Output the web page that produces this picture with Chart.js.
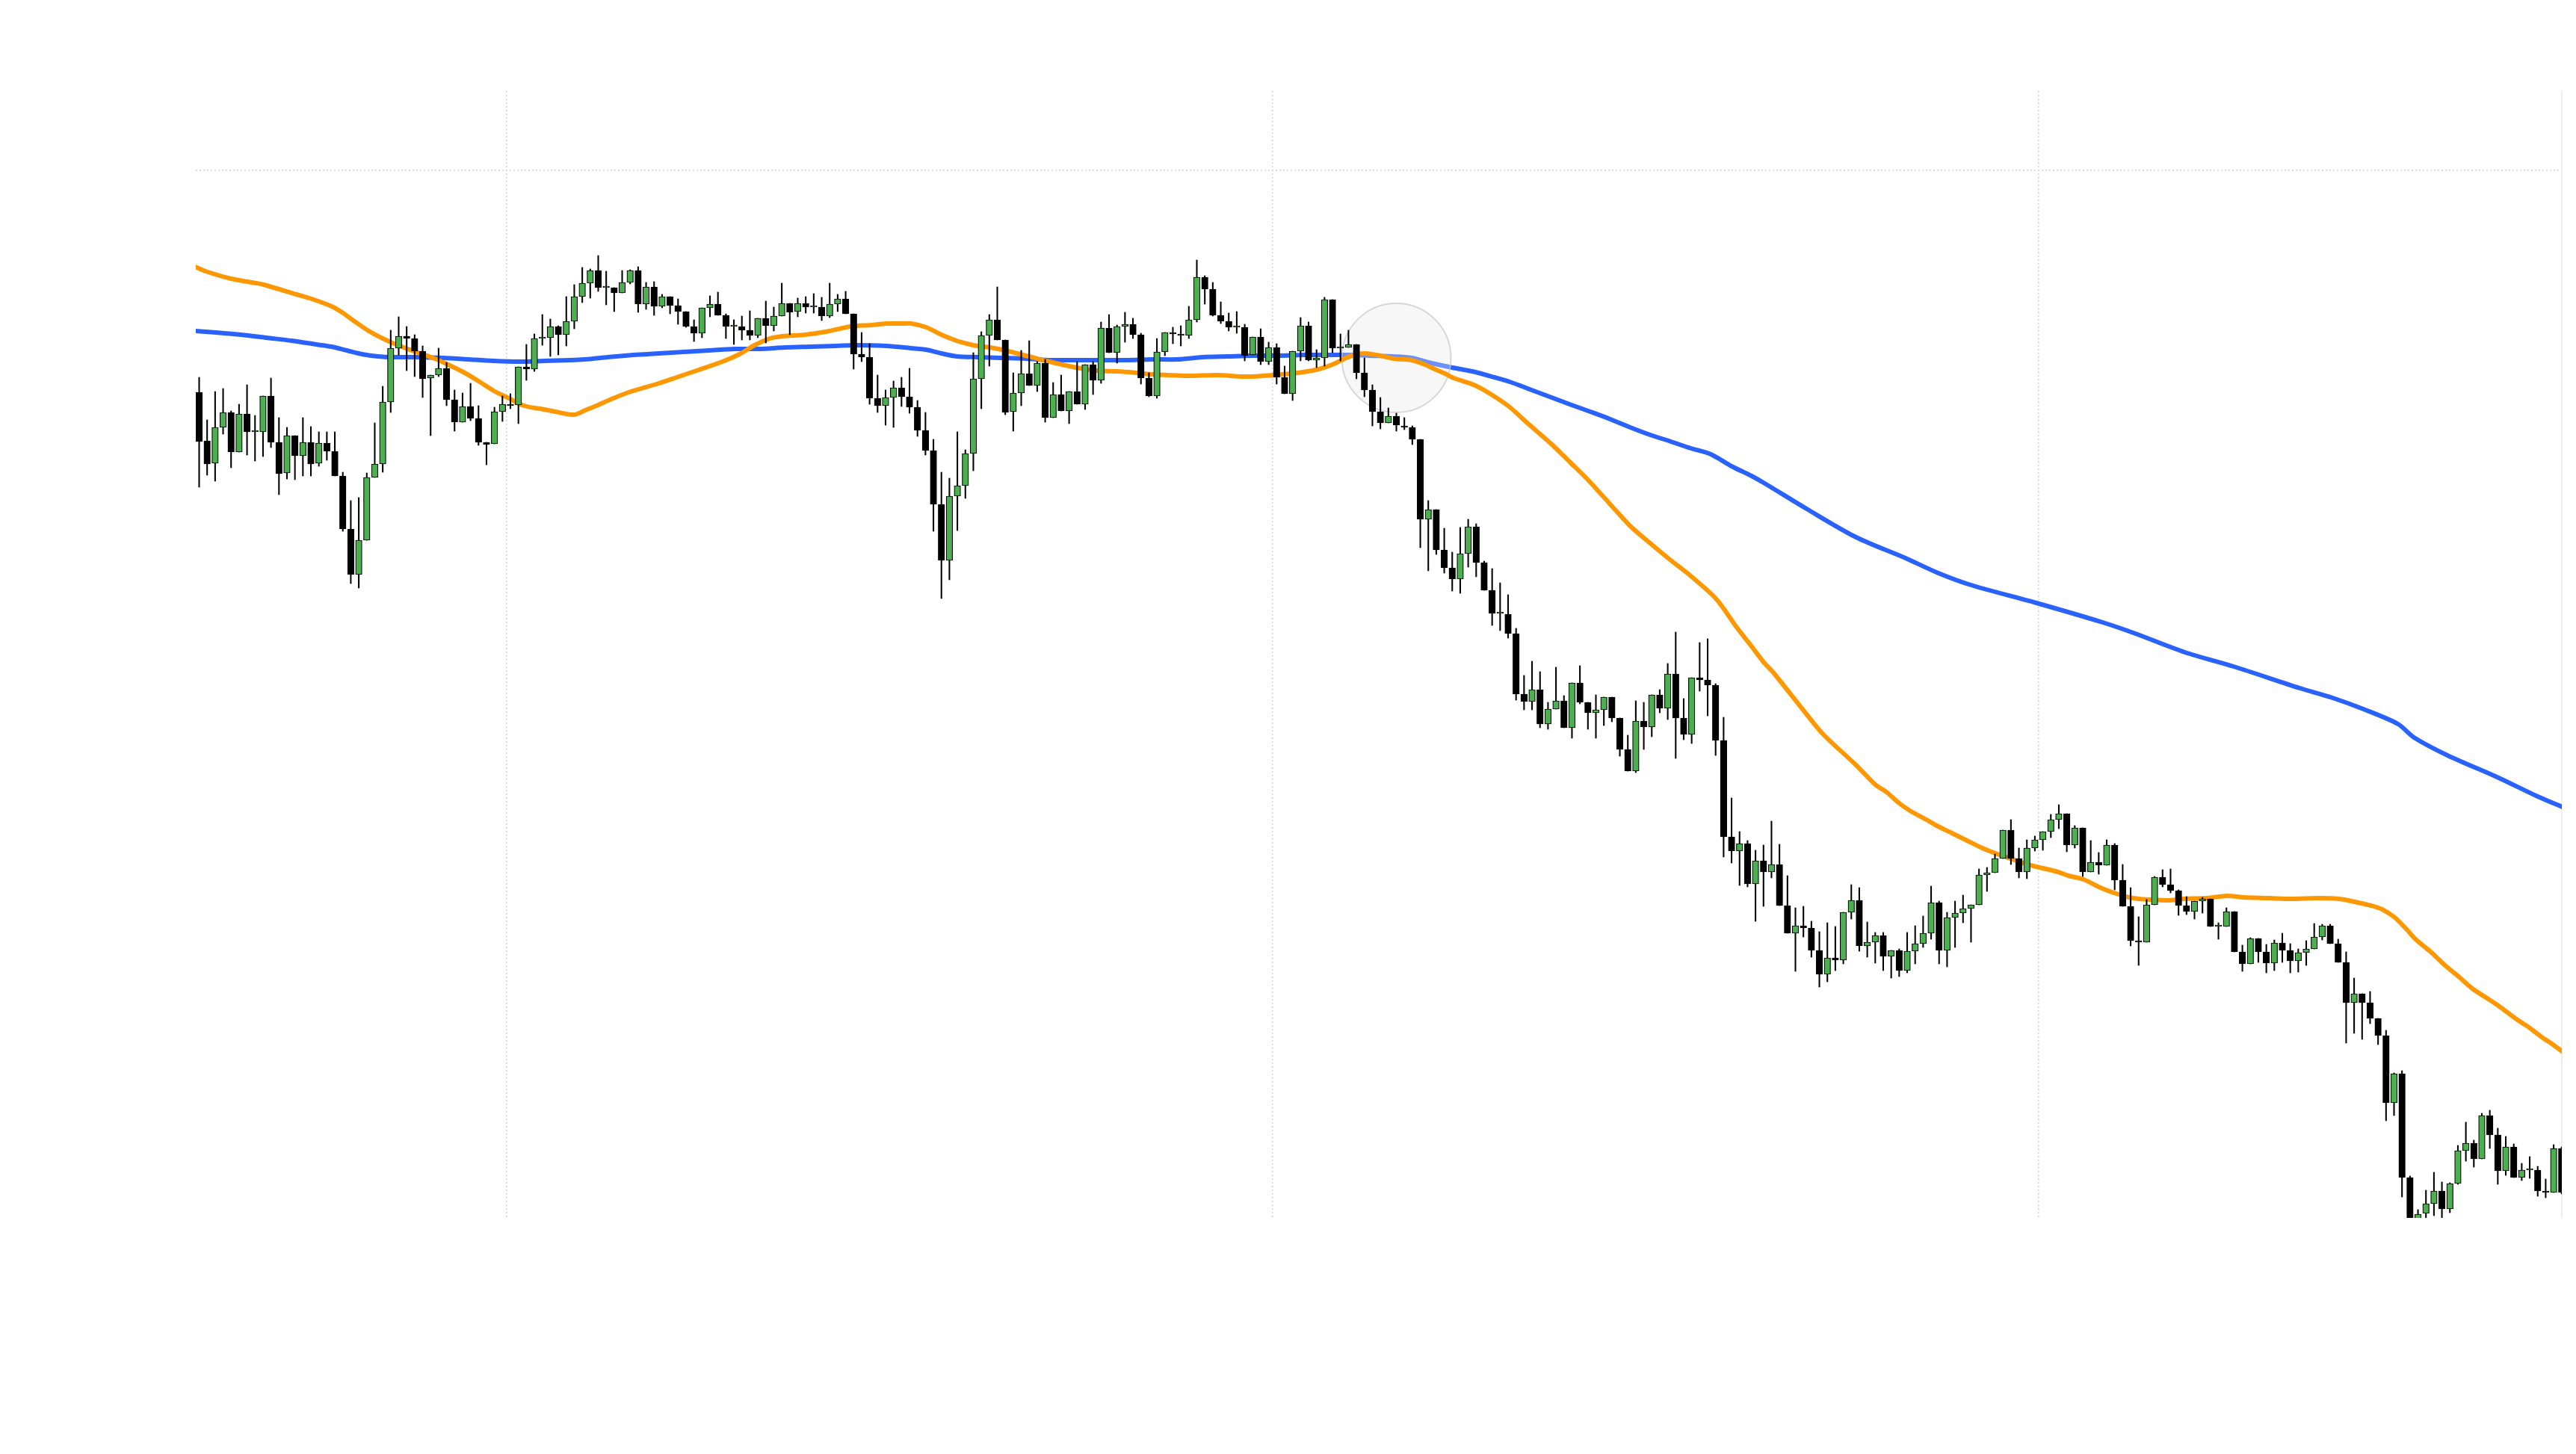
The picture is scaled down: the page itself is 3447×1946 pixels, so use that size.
<!DOCTYPE html>
<html>
<head>
<meta charset="utf-8">
<title>Candles with moving averages</title>
<script src="https://cdn.jsdelivr.net/npm/chart.js@4.4.1/dist/chart.umd.min.js"></script>
<style>
  html, body { margin: 0; padding: 0; background: #fff; }
  #chart { display: block; }
</style>
</head>
<body>
<canvas id="chart" width="3447" height="1946"></canvas>
<script>
// ------------------------------
// Candle values (one entry per session).
const opens = [
  170.3, 163.8, 160.8, 165.6, 167.6, 162.3, 167.4, 165.0, 165.0, 169.8,
  163.6, 159.5, 164.5, 161.8, 163.6, 160.8, 163.5, 162.4, 159.1, 152.0,
  145.9, 150.5, 158.9, 160.7, 169.0, 176.2, 177.8, 177.5, 175.8, 172.2,
  172.6, 173.5, 169.3, 166.3, 168.4, 166.8, 163.6, 163.4, 167.7, 168.7,
  168.6, 173.7, 173.4, 177.5, 177.6, 179.1, 178.0, 179.8, 183.1, 184.9,
  186.6, 184.3, 184.3, 183.6, 185.0, 186.6, 182.1, 184.4, 181.8, 183.1,
  181.9, 181.1, 179.1, 178.2, 181.6, 182.1, 180.6, 179.1, 179.1, 178.6,
  177.9, 180.2, 179.2, 180.5, 182.2, 181.1, 182.2, 181.7, 181.7, 180.5,
  182.1, 182.8, 180.8, 175.4, 175.0, 169.5, 168.5, 169.6, 170.9, 169.7,
  168.3, 165.2, 162.5, 155.3, 147.8, 156.4, 157.8, 162.1, 172.1, 177.9,
  180.0, 177.3, 167.7, 170.2, 172.8, 171.2, 174.2, 166.9, 170.0, 167.8,
  170.4, 168.7, 174.0, 171.9, 178.9, 175.6, 179.1, 179.4, 178.0, 172.2,
  169.8, 175.7, 178.3, 178.1, 177.9, 180.0, 185.7, 184.1, 180.6, 179.8,
  179.0, 179.0, 175.3, 177.7, 174.4, 176.3, 172.3, 170.1, 175.8, 179.2,
  174.6, 174.9, 182.7, 176.2, 176.3, 176.7, 172.9, 170.6, 167.7, 166.2,
  167.1, 165.8, 165.6, 164.0, 153.3, 154.6, 149.2, 146.8, 145.3, 148.7,
  152.3, 147.5, 143.8, 140.7, 140.6, 138.0, 129.9, 128.9, 130.5, 125.9,
  127.9, 129.0, 125.4, 131.4, 128.8, 127.4, 127.8, 129.5, 126.7, 122.5,
  119.6, 126.3, 125.5, 129.8, 128.0, 132.6, 126.7, 124.5, 132.1, 131.8,
  131.1, 123.7, 110.8, 108.9, 109.9, 104.5, 107.6, 106.1, 107.1, 101.6,
  97.9, 98.9, 98.6, 95.6, 92.4, 94.6, 94.3, 100.7, 102.3, 96.2,
  96.7, 97.6, 94.8, 95.6, 92.9, 95.5, 96.5, 97.9, 102.0, 95.6,
  100.0, 100.6, 101.2, 101.7, 105.7, 106.0, 107.9, 111.7, 107.9, 106.1,
  109.3, 110.4, 111.5, 113.1, 113.9, 109.7, 112.0, 106.1, 107.4, 107.0,
  109.7, 105.0, 101.5, 96.9, 96.7, 101.7, 105.4, 104.4, 103.6, 101.6,
  100.8, 102.2, 102.5, 98.8, 98.8, 100.8, 95.4, 93.8, 97.2, 95.4,
  93.9, 96.6, 95.6, 94.2, 95.3, 95.8, 97.4, 98.9, 96.5, 94.0,
  88.6, 89.8, 88.6, 86.5, 84.2, 75.2, 79.1, 65.2, 58.8, 60.4,
  61.7, 63.4, 61.0, 64.4, 68.8, 69.8, 67.7, 73.5, 70.9, 66.1,
  69.3, 65.2, 66.2, 66.2, 63.4, 63.2, 69.1
];
const highs = [
  172.3, 166.6, 170.4, 170.8, 167.8, 168.7, 171.3, 167.2, 169.8, 172.2,
  166.9, 165.6, 164.5, 166.9, 165.7, 165.0, 165.0, 165.0, 159.6, 155.8,
  156.2, 159.5, 166.2, 171.1, 178.6, 180.4, 179.1, 178.0, 176.5, 172.6,
  176.2, 174.3, 170.6, 170.2, 171.5, 168.5, 163.6, 168.3, 169.8, 170.1,
  173.7, 176.7, 178.1, 180.7, 180.1, 179.2, 183.1, 184.7, 187.0, 186.8,
  188.6, 186.5, 184.3, 186.6, 186.7, 187.1, 185.0, 185.1, 183.4, 183.1,
  182.8, 181.1, 180.0, 181.6, 183.2, 183.7, 180.8, 180.0, 180.5, 181.2,
  180.2, 182.5, 181.7, 184.9, 182.2, 182.9, 183.1, 183.5, 183.0, 184.9,
  183.4, 183.8, 180.8, 178.3, 176.8, 172.6, 170.6, 171.8, 172.3, 173.5,
  169.2, 167.6, 164.0, 159.6, 158.8, 165.0, 162.6, 175.6, 178.4, 180.7,
  184.4, 177.3, 172.9, 175.9, 177.2, 174.4, 174.7, 171.6, 172.6, 170.4,
  174.4, 174.0, 174.4, 179.7, 180.7, 179.3, 181.0, 180.2, 178.2, 172.9,
  177.5, 178.3, 179.0, 179.2, 181.8, 188.0, 185.9, 185.0, 182.4, 180.9,
  181.1, 179.4, 177.7, 178.8, 177.0, 176.8, 173.8, 175.8, 180.3, 179.7,
  176.0, 183.0, 182.7, 178.1, 178.6, 176.7, 174.9, 171.3, 169.6, 168.2,
  167.5, 166.9, 165.8, 164.0, 155.8, 154.6, 152.1, 148.9, 152.2, 153.3,
  152.7, 147.7, 146.7, 144.8, 143.2, 138.7, 132.4, 134.3, 132.9, 128.8,
  133.5, 129.7, 131.4, 133.7, 128.8, 129.8, 129.5, 129.5, 126.7, 124.4,
  129.0, 128.8, 129.8, 130.5, 134.0, 138.2, 129.3, 132.1, 136.8, 137.3,
  131.3, 126.8, 116.0, 111.5, 110.3, 109.0, 109.7, 112.9, 109.8, 105.6,
  101.3, 101.5, 99.5, 98.1, 99.3, 98.8, 100.7, 104.4, 104.0, 99.4,
  98.0, 98.0, 95.6, 95.8, 98.0, 98.9, 100.2, 104.2, 102.2, 100.7,
  102.2, 103.0, 101.7, 106.5, 106.7, 108.5, 111.7, 113.1, 109.3, 110.4,
  110.9, 111.5, 113.8, 115.1, 113.9, 112.3, 112.0, 110.3, 108.7, 110.4,
  109.9, 107.1, 104.0, 100.1, 102.4, 105.5, 106.4, 106.5, 103.7, 102.8,
  102.2, 102.7, 102.5, 99.3, 101.3, 100.8, 96.3, 97.3, 97.2, 96.4,
  97.0, 97.9, 96.5, 95.8, 96.9, 99.2, 99.1, 99.1, 97.1, 95.4,
  91.9, 89.8, 90.1, 86.5, 84.9, 79.2, 79.5, 65.4, 60.9, 63.5,
  65.9, 64.6, 64.5, 69.5, 72.6, 70.2, 73.8, 74.2, 71.8, 70.7,
  69.7, 67.1, 68.0, 66.7, 65.0, 69.6, 69.3
];
const lows = [
  157.6, 159.2, 158.4, 164.7, 160.2, 162.3, 161.9, 161.1, 161.7, 162.9,
  156.6, 158.7, 158.6, 159.1, 159.1, 160.4, 161.2, 159.1, 151.7, 144.7,
  144.1, 150.5, 158.9, 159.6, 167.6, 175.3, 173.2, 172.4, 169.6, 164.5,
  172.4, 168.5, 165.1, 166.3, 166.5, 163.2, 160.6, 163.4, 166.4, 168.1,
  166.1, 171.9, 173.1, 176.6, 175.1, 175.3, 176.5, 178.8, 182.3, 182.9,
  183.8, 182.0, 181.1, 183.6, 184.8, 181.0, 181.4, 180.6, 181.6, 180.8,
  179.4, 179.0, 177.1, 177.6, 180.4, 180.6, 177.5, 176.7, 177.3, 177.3,
  177.6, 176.9, 178.5, 180.5, 178.0, 180.4, 180.9, 180.9, 179.9, 180.3,
  181.1, 180.8, 173.4, 174.4, 168.7, 167.6, 165.9, 165.6, 168.4, 167.5,
  164.4, 161.9, 151.7, 142.7, 145.2, 151.8, 156.1, 159.8, 168.1, 173.8,
  177.3, 167.3, 165.1, 168.5, 171.2, 170.4, 166.3, 166.9, 167.8, 166.1,
  168.7, 168.0, 170.0, 171.5, 175.6, 174.2, 177.0, 177.5, 171.4, 169.7,
  169.5, 175.2, 176.8, 176.5, 177.5, 179.7, 182.1, 180.5, 179.5, 178.5,
  178.2, 174.5, 175.3, 174.0, 174.0, 171.4, 170.1, 169.2, 174.5, 174.5,
  173.6, 173.8, 175.6, 174.5, 176.3, 172.1, 169.7, 165.8, 165.4, 166.2,
  165.1, 165.3, 163.3, 149.5, 146.4, 148.6, 146.1, 143.7, 143.4, 146.9,
  145.6, 143.8, 139.1, 138.4, 137.4, 129.1, 127.8, 127.8, 125.4, 125.2,
  127.9, 125.4, 124.0, 128.6, 125.2, 124.0, 125.7, 126.2, 121.6, 119.6,
  119.4, 122.5, 124.2, 127.4, 126.5, 121.3, 123.8, 123.3, 130.3, 127.0,
  121.7, 108.1, 107.3, 104.3, 104.1, 99.5, 101.5, 105.3, 101.6, 97.9,
  92.8, 97.4, 94.7, 90.7, 91.4, 92.9, 93.8, 99.8, 95.5, 94.7,
  93.9, 92.9, 91.9, 92.1, 92.6, 93.8, 96.0, 97.1, 93.8, 93.4,
  96.0, 99.3, 96.7, 101.7, 103.5, 106.0, 107.9, 107.1, 105.3, 105.2,
  108.9, 109.0, 110.7, 111.9, 108.8, 109.3, 105.5, 106.1, 105.8, 107.0,
  103.7, 101.5, 96.2, 93.6, 96.7, 101.7, 104.1, 103.3, 100.3, 100.4,
  99.8, 100.6, 98.8, 97.1, 98.8, 95.4, 92.8, 93.8, 94.0, 92.6,
  92.9, 94.0, 92.6, 92.7, 93.6, 95.8, 97.0, 96.5, 94.0, 83.2,
  84.5, 83.7, 85.8, 83.0, 72.8, 73.5, 62.6, 57.5, 58.0, 59.5,
  60.1, 59.6, 60.5, 64.3, 67.4, 66.6, 67.7, 69.1, 64.3, 65.5,
  65.2, 64.8, 65.1, 62.7, 62.5, 63.2, 63.0
];
const closes = [
  163.7, 160.7, 165.6, 167.6, 162.3, 167.4, 165.0, 165.2, 169.8, 163.6,
  159.4, 164.5, 161.8, 163.6, 160.7, 163.5, 162.4, 159.1, 152.0, 145.9,
  150.5, 158.9, 160.7, 169.0, 176.2, 177.8, 177.5, 175.8, 172.1, 172.6,
  173.5, 169.3, 166.3, 168.4, 166.8, 163.6, 163.3, 167.7, 168.7, 168.5,
  173.7, 173.4, 177.5, 177.7, 179.1, 178.0, 179.8, 183.1, 184.9, 186.6,
  184.3, 184.5, 183.6, 185.0, 186.6, 182.1, 184.4, 181.8, 183.1, 181.9,
  181.1, 179.1, 178.2, 181.6, 182.1, 180.6, 179.1, 179.3, 178.6, 177.9,
  180.2, 179.2, 180.5, 182.2, 181.0, 182.2, 181.7, 181.9, 180.5, 182.1,
  182.8, 180.8, 175.4, 175.0, 169.5, 168.5, 169.6, 170.9, 169.7, 168.3,
  165.2, 162.5, 155.3, 147.8, 156.4, 157.8, 162.1, 172.1, 177.9, 180.0,
  177.3, 167.6, 170.2, 172.8, 171.2, 174.2, 166.9, 170.0, 167.8, 170.4,
  168.7, 174.0, 171.9, 178.9, 175.6, 179.1, 179.4, 178.0, 172.2, 169.8,
  175.7, 178.3, 178.1, 177.9, 180.0, 185.7, 184.1, 180.6, 179.8, 179.0,
  179.2, 175.2, 177.7, 174.4, 176.3, 172.3, 170.1, 175.8, 179.2, 174.6,
  174.9, 182.7, 176.2, 176.4, 176.7, 172.9, 170.6, 167.7, 166.2, 167.1,
  165.9, 165.6, 164.0, 153.3, 154.6, 149.2, 146.8, 145.3, 148.7, 152.3,
  147.5, 143.8, 140.7, 140.9, 138.0, 129.9, 128.9, 130.5, 125.9, 127.9,
  129.0, 125.4, 131.4, 128.8, 127.4, 127.8, 129.5, 126.7, 122.5, 119.6,
  126.3, 125.5, 129.8, 128.0, 132.6, 126.7, 124.5, 132.1, 131.8, 131.1,
  123.7, 110.8, 108.9, 109.9, 104.5, 107.6, 106.1, 107.1, 101.6, 97.9,
  98.9, 98.6, 95.6, 92.4, 94.6, 94.3, 100.7, 102.3, 96.2, 96.7,
  97.6, 94.8, 95.6, 92.9, 95.5, 96.5, 97.9, 102.0, 95.6, 100.0,
  100.6, 101.2, 101.7, 105.7, 106.0, 107.9, 111.7, 107.9, 106.1, 109.3,
  110.4, 111.5, 113.1, 113.9, 109.7, 112.0, 106.1, 107.4, 107.0, 109.7,
  105.0, 101.5, 96.9, 96.7, 101.7, 105.4, 104.4, 103.6, 101.6, 100.8,
  102.2, 102.5, 98.8, 99.0, 100.8, 95.4, 93.8, 97.2, 95.4, 93.9,
  96.6, 95.6, 94.2, 95.3, 95.8, 97.4, 98.9, 96.5, 94.0, 88.6,
  89.8, 88.6, 86.5, 84.2, 75.2, 79.1, 65.2, 58.8, 60.3, 61.7,
  63.4, 61.0, 64.4, 68.8, 69.8, 67.7, 73.5, 70.9, 66.1, 69.3,
  65.2, 66.2, 66.4, 63.4, 63.2, 69.1, 63.2
];

// Fast moving average (orange), sampled at candle positions.
const fastX = [
  -0.5, 0.8, 4.0, 7.2, 8.1, 12.2, 14.1, 16.6, 17.9, 19.2, 21.1, 23.0, 24.9, 27.4,
  29.3, 31.2, 33.1, 35.0, 36.9, 38.8, 40.7, 43.2, 45.1, 47.0, 48.4, 50.0, 51.9,
  54.1, 57.6, 60.1, 62.6, 65.8, 67.7, 69.6, 71.5, 73.1, 75.9, 78.5, 81.6, 84.2,
  86.1, 88.0, 89.2, 91.1, 93.0, 94.9, 96.2, 97.5, 99.1, 101.0, 103.6, 106.1,
  109.9, 112.4, 115.0, 117.5, 119.4, 121.3, 123.8, 127.6, 130.8, 133.3, 135.8,
  138.3, 140.3, 142.2, 143.5, 144.7, 146.1, 148.0, 149.7, 151.9, 153.6, 154.6,
  156.1, 157.2, 159.7, 161.6, 164.1, 166.4, 167.9, 169.5, 171.7, 173.9, 176.8,
  179.3, 181.8, 184.4, 186.9, 190.1, 192.6, 194.5, 196.0, 197.3, 201.4, 203.5,
  207.6, 210.0, 211.4, 213.0, 214.5, 216.4, 217.7, 219.6, 221.5, 223.4, 225.3,
  227.2, 229.1, 231.0, 232.9, 234.2, 236.1, 238.0, 239.9, 241.8, 243.0, 244.3,
  246.7, 248.7, 251.4, 254.1, 256.1, 259.4, 262.1, 265.4, 268.1, 270.1, 272.1,
  273.5, 275.1, 276.5, 277.8, 279.5, 281.5, 283.2, 284.8, 286.8, 288.2, 290.2,
  291.9, 293.5, 294.9, 296.3
];
const fastY = [
  187.1, 186.5, 185.5, 184.9, 184.7, 183.4, 182.8, 181.8, 181.0, 180.0, 178.6, 177.5, 176.6, 175.6,
  174.9, 174.0, 173.0, 171.8, 170.5, 169.5, 168.5, 168.0, 167.6, 167.3, 167.9, 168.6, 169.5,
  170.4, 171.5, 172.4, 173.3, 174.5, 175.4, 176.6, 177.5, 177.8, 178.0, 178.4, 179.1, 179.3,
  179.5, 179.5, 179.5, 179.0, 178.0, 177.2, 176.8, 176.5, 176.3, 175.9, 175.2, 174.5,
  173.6, 173.2, 173.1, 172.9, 172.7, 172.6, 172.5, 172.6, 172.4, 172.5, 172.7,
  173.0, 173.4, 174.1, 174.8, 175.3, 175.5, 175.2, 174.8, 174.6, 174.0, 173.5,
  172.8, 172.2, 171.3, 170.2, 168.4, 166.2, 164.8, 163.3, 161.0, 158.7, 155.3,
  152.4, 150.1, 147.8, 145.7, 142.6, 138.9, 136.3, 134.2, 132.7, 127.2, 124.5,
  120.4, 117.8, 116.8, 115.3, 114.2, 113.1, 112.3, 111.3, 110.3, 109.3, 108.5,
  107.8, 107.1, 106.6, 106.1, 105.6, 105.1, 104.1, 103.3, 102.7, 102.5, 102.4,
  102.3, 102.5, 102.6, 102.9, 102.7, 102.6, 102.5, 102.6, 102.5, 102.1, 101.6,
  101.1, 100.0, 98.5, 97.0, 95.5, 93.5, 92.0, 90.5, 89.1, 88.1, 86.5,
  85.3, 84.0, 83.0, 81.9
];

// Slow moving average (blue).
const slowX = [
  -0.5, 2.1, 5.3, 8.4, 11.6, 14.7, 16.6, 18.5, 20.4, 22.4, 24.3, 27.4, 30.6, 33.7,
  36.9, 40.1, 43.2, 46.4, 48.3, 51.2, 54.4, 57.6, 60.7, 63.9, 67.1, 70.2, 73.4,
  76.6, 79.7, 82.2, 86.1, 89.2, 91.1, 93.0, 94.9, 97.5, 100.4, 103.6, 106.7,
  109.9, 113.1, 116.2, 119.4, 122.6, 125.7, 128.9, 132.1, 135.2, 138.4, 141.6,
  144.6, 146.6, 149.4, 151.9, 154.4, 157.0, 159.5, 162.3, 164.2, 166.7, 169.2,
  171.7, 174.3, 176.8, 179.3, 181.8, 184.4, 186.9, 189.4, 192.0, 194.5, 196.0,
  201.4, 207.6, 213.8, 217.9, 222.0, 230.2, 238.5, 242.6, 248.8, 254.9, 263.2,
  267.3, 271.4, 275.5, 277.5, 281.7, 287.9, 293.0, 296.3
];
const slowY = [
  178.5, 178.3, 178.0, 177.6, 177.2, 176.7, 176.4, 175.9, 175.4, 175.1, 175.0, 175.0, 174.9, 174.7,
  174.5, 174.4, 174.5, 174.6, 174.7, 175.0, 175.3, 175.5, 175.7, 175.9, 176.1, 176.1, 176.3,
  176.4, 176.5, 176.6, 176.5, 176.2, 176.0, 175.5, 175.1, 175.0, 174.9, 174.8, 174.6,
  174.6, 174.6, 174.6, 174.7, 174.7, 175.0, 175.1, 175.2, 175.2, 175.3, 175.3,
  175.3, 175.2, 175.1, 174.9, 174.2, 173.6, 173.1, 172.3, 171.7, 170.7, 169.7,
  168.7, 167.7, 166.7, 165.6, 164.6, 163.7, 162.8, 162.0, 160.4, 159.1, 158.2,
  154.7, 150.9, 148.1, 146.1, 144.5, 142.1, 139.5, 138.0, 135.5, 133.6, 130.7,
  129.4, 127.8, 125.9, 124.1, 121.7, 118.8, 116.2, 114.7
];

// Grid positions and the highlighted point.
const xGridAt = [38.5, 134.5, 230.5];
const yGridAt = [200];
const markerX = 150;
const markerY = 174.9;

// ------------------------------
const upColor = '#4caf50';
const downColor = '#000000';
const gridColor = '#cfd4dc';

const bodies = opens.map(function(o, i) {
  return { x: i, y: [o, closes[i]] };
});
const wicks = opens.map(function(o, i) {
  return { x: i, y: [lows[i], highs[i]] };
});
const bodyColors = opens.map(function(o, i) {
  return closes[i] >= o ? upColor : downColor;
});
const toPoints = function(xs, ys) {
  return xs.map(function(x, i) { return { x: x, y: ys[i] }; });
};

const ctx = document.getElementById('chart').getContext('2d');
new Chart(ctx, {
  type: 'bar',
  data: {
    datasets: [
      {
        type: 'line',
        label: 'Slow MA',
        data: toPoints(slowX, slowY),
        borderColor: '#2962ff',
        borderWidth: 6,
        pointRadius: 0,
        tension: 0.3,
        borderCapStyle: 'round',
        borderJoinStyle: 'round',
        clip: 0,
        order: 5
      },
      {
        type: 'line',
        label: 'Marker',
        data: [{ x: markerX, y: markerY }],
        showLine: false,
        pointRadius: 73,
        pointHoverRadius: 73,
        pointBackgroundColor: 'rgba(232,232,232,0.35)',
        pointBorderColor: 'rgba(200,200,200,0.7)',
        pointBorderWidth: 2,
        clip: false,
        order: 4
      },
      {
        type: 'line',
        label: 'Fast MA',
        data: toPoints(fastX, fastY),
        borderColor: '#ff9800',
        borderWidth: 6,
        pointRadius: 0,
        tension: 0.3,
        borderCapStyle: 'round',
        borderJoinStyle: 'round',
        clip: 0,
        order: 3
      },
      {
        label: 'Wicks',
        data: wicks,
        backgroundColor: '#000',
        borderWidth: 0,
        barThickness: 1.4,
        grouped: false,
        clip: 0,
        order: 2
      },
      {
        label: 'Bodies',
        data: bodies,
        backgroundColor: bodyColors,
        borderColor: '#000',
        borderWidth: 1.2,
        borderSkipped: false,
        barThickness: 8.6,
        grouped: false,
        clip: 0,
        order: 1
      }
    ]
  },
  options: {
    responsive: false,
    animation: false,
    devicePixelRatio: 1,
    layout: {
      autoPadding: false,
      padding: { left: 262, top: 122, right: 19, bottom: 316 }
    },
    plugins: {
      legend: { display: false },
      tooltip: { enabled: false }
    },
    scales: {
      x: {
        type: 'linear',
        min: -0.42,
        max: 296.02,
        offset: false,
        ticks: { display: false },
        grid: { color: gridColor, lineWidth: 1.5, drawTicks: false, offset: false },
        border: { display: false, dash: [2, 3] },
        afterBuildTicks: function(scale) {
          scale.ticks = xGridAt.map(function(v) { return { value: v }; });
        }
      },
      y: {
        type: 'linear',
        position: 'right',
        min: 59.8,
        max: 210.6,
        beginAtZero: false,
        ticks: { display: false },
        grid: { color: gridColor, lineWidth: 1.5, drawTicks: false },
        border: { display: true, color: '#eeeeee', width: 2, dash: [2, 3] },
        afterBuildTicks: function(scale) {
          scale.ticks = yGridAt.map(function(v) { return { value: v }; });
        }
      }
    }
  }
});
</script>
</body>
</html>
